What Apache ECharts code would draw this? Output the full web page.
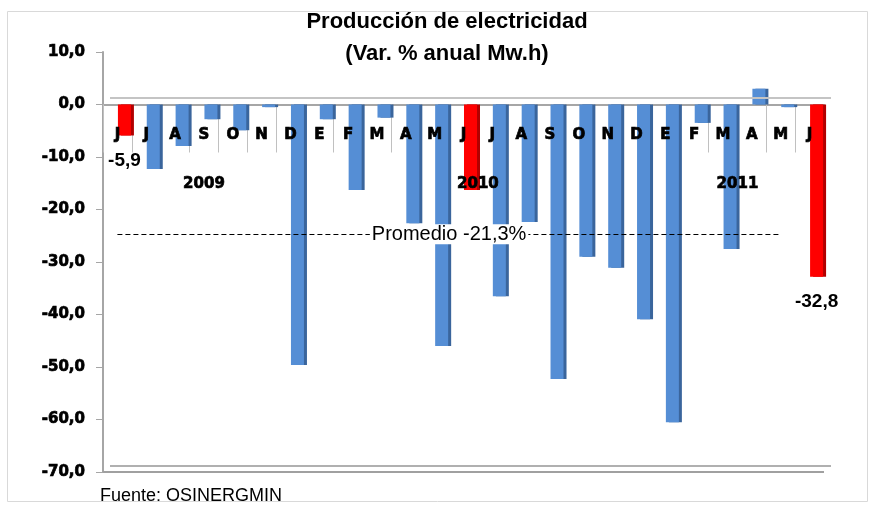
<!DOCTYPE html>
<html>
<head>
<meta charset="utf-8">
<script src="https://cdn.jsdelivr.net/npm/echarts@6/dist/echarts.min.js"></script>
<style>
html,body{margin:0;padding:0;background:#fff;}
#chart{width:869px;height:507px;}
</style>
</head>
<body>
<div id="chart"></div>
<script>
// ---- data ----
const months = ['J','J','A','S','O','N','D','E','F','M','A','M','J','J','A','S','O','N','D','E','F','M','A','M','J'];
const values = [-5.9,-12.3,-7.9,-2.8,-4.9,-0.5,-49.6,-2.8,-16.3,-2.5,-22.6,-46.0,-16.3,-36.5,-22.4,-52.3,-29.0,-31.1,-40.9,-60.5,-3.5,-27.5,3.0,-0.5,-32.8];
const highlighted = [0, 12, 24];
const labeled = [0, 24];
const years = ['2009', '2010', '2011'];
const monthsPerYear = [7, 12, 6];
const yMin = -70, yMax = 10, yStep = 10;
const averageText = 'Promedio -21,3%';
const averageLineValue = -24.7;
const averageLineEndIndex = 23;
const backWallValue = 1.3;
const backFloorValue = -68.85;
const titleText = 'Producción de electricidad\n(Var. % anual Mw.h)';
const sourceText = 'Fuente: OSINERGMIN';

const fmt = v => v.toFixed(1).replace('.', ',');
const heavy = 'DejaVu Sans';

const chart = echarts.init(document.getElementById('chart'));

const barData = values.map((v, i) => {
  const red = highlighted.indexOf(i) >= 0;
  const item = {
    value: v,
    itemStyle: {
      color: red ? '#ff0000' : '#558ed5',
      shadowColor: red ? '#b30000' : '#3a659c',
      shadowOffsetX: 3,
      shadowBlur: 0
    }
  };
  if (labeled.indexOf(i) >= 0) {
    item.label = {
      show: true, position: 'bottom', distance: 16,
      formatter: p => fmt(p.value),
      fontFamily: 'Liberation Sans', fontWeight: 'bold', fontSize: 19, color: '#000'
    };
  }
  return item;
});

const plotTop = 52, plotHeight = 420;
const gridBox = l => ({left: l, top: plotTop, width: 721, height: plotHeight});
// grid for the month labels: spans from yMax down to zero
const labelGrid = {left: 103, top: plotTop, width: 721, height: plotHeight * yMax / (yMax - yMin)};
const heavyText = {fontFamily: heavy, fontWeight: 'bold', fontSize: 15, color: '#000', textBorderColor: '#000', textBorderWidth: 0.7};

const option = {
  animation: false,
  grid: [gridBox(110), gridBox(103), labelGrid],
  xAxis: [
    {gridIndex: 0, type: 'category', data: months, show: false},
    {gridIndex: 1, type: 'category', data: months, z: 0,
      axisLine: {onZero: true, lineStyle: {color: '#a6a6a6', width: 2}},
      axisTick: {show: true, interval: 0, length: 48, lineStyle: {color: '#c0c0c0', width: 1}},
      axisLabel: {show: false}
    },
    {gridIndex: 2, type: 'category', data: months, z: 20, position: 'bottom',
      axisLine: {show: false, onZero: false},
      axisTick: {show: false},
      axisLabel: Object.assign({interval: 0, margin: 23}, heavyText)
    }
  ],
  yAxis: [
    {gridIndex: 1, type: 'value', min: yMin, max: yMax, interval: yStep,
      axisLine: {show: true, lineStyle: {color: '#a6a6a6', width: 2}},
      axisTick: {show: true, length: 7, lineStyle: {color: '#a6a6a6', width: 1}},
      splitLine: {show: false},
      axisLabel: Object.assign({margin: 18, formatter: v => fmt(v)}, heavyText)
    },
    {gridIndex: 0, type: 'value', min: yMin, max: yMax, interval: yStep, show: false},
    {gridIndex: 2, type: 'value', min: 0, max: yMax, show: false}
  ],
  series: [
    {
      type: 'bar', xAxisIndex: 0, yAxisIndex: 1, data: barData, barWidth: 13, z: 2,
      markLine: {
        silent: true, symbol: 'none', label: {show: false},
        lineStyle: {color: '#c4c4c4', type: 'solid', width: 2},
        data: [{yAxis: backWallValue}, {yAxis: backFloorValue, lineStyle: {color: '#b0b0b0', type: 'solid', width: 2}}]
      }
    },
    {
      type: 'line', xAxisIndex: 1, yAxisIndex: 0, data: values, silent: true,
      showSymbol: false, symbol: 'none', lineStyle: {opacity: 0}, z: 5,
      markLine: {
        silent: true, symbol: 'none',
        lineStyle: {color: '#000', type: [5, 3], width: 1},
        label: {show: true, position: 'insideMiddle', formatter: averageText,
          fontFamily: 'Liberation Sans', fontSize: 20, color: '#000',
          backgroundColor: '#fff', padding: [0, 2]},
        data: [
          [{coord: [0, averageLineValue]}, {coord: [averageLineEndIndex, averageLineValue]}],
          {yAxis: yMin, label: {show: false}, lineStyle: {color: '#a0a0a0', type: 'solid', width: 2}}
        ]
      }
    }
  ]
};
chart.setOption(option);

// year labels centred under their months, placed through the axis scale
const px = i => chart.convertToPixel({xAxisIndex: 2}, i);
const zeroY = chart.convertToPixel({yAxisIndex: 0}, 0);
let start = 0;
const yearGraphics = years.map((y, k) => {
  const a = start, b = start + monthsPerYear[k] - 1;
  start += monthsPerYear[k];
  const cx = (px(a) + px(b)) / 2;
  return {type: 'text', z: 100, x: cx, y: zeroY + 80,
    style: {text: y, font: 'bold 15px "DejaVu Sans"', fill: '#000', stroke: '#000', lineWidth: 0.7,
      textAlign: 'center', textVerticalAlign: 'middle'}};
});

chart.setOption({
  graphic: [
    {type: 'rect', z: -1, shape: {x: 7.5, y: 11.5, width: 860, height: 490},
      style: {fill: 'none', stroke: '#d9d9d9', lineWidth: 1}},
    {type: 'text', z: 100, x: 447, y: 6,
      style: {text: titleText, font: 'bold 22px "Liberation Sans"', fill: '#000', textAlign: 'center', textVerticalAlign: 'top', lineHeight: 32}},
    {type: 'text', z: 100, x: 100, y: 496,
      style: {text: sourceText, font: '18px "Liberation Sans"', fill: '#000', textAlign: 'left', textVerticalAlign: 'middle'}}
  ].concat(yearGraphics)
});
</script>
</body>
</html>
